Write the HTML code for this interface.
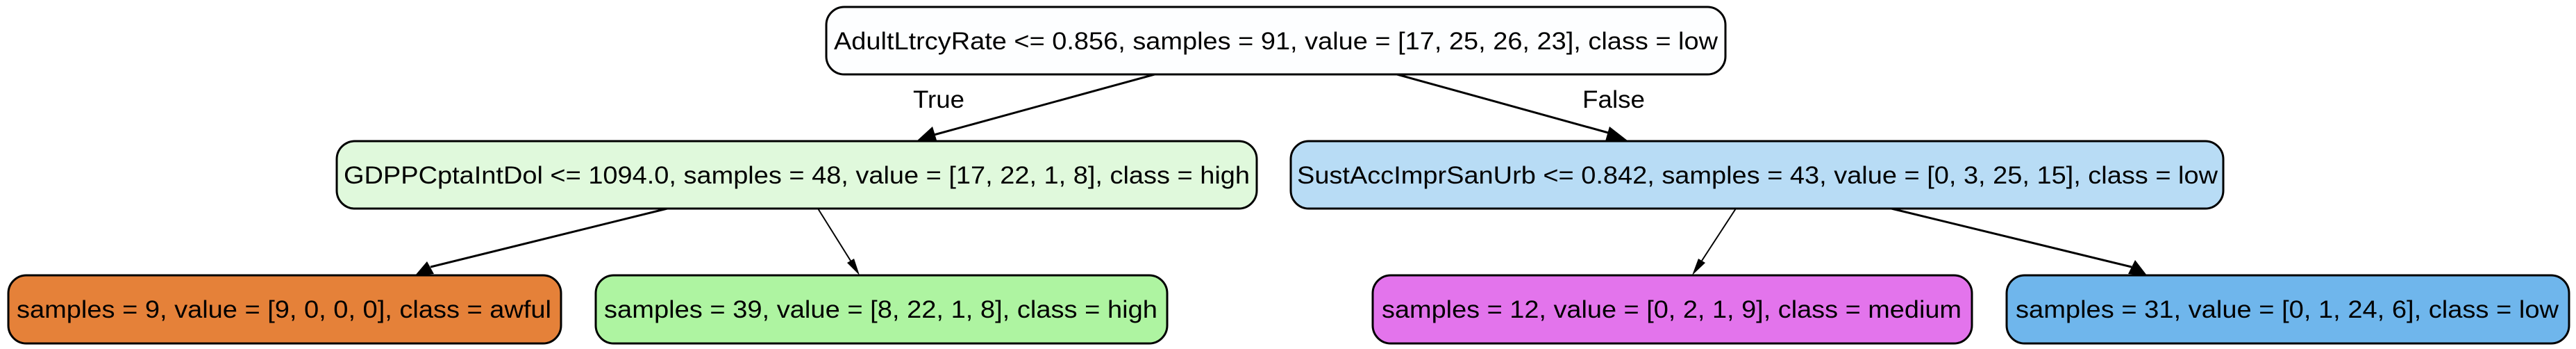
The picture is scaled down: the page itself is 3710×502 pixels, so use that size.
<!DOCTYPE html>
<html><head><meta charset="utf-8"><style>
html,body{margin:0;padding:0;background:#fff;}
svg{display:block}
text{font-family:"Liberation Sans",Arial,sans-serif;font-size:35px;fill:#000}
</style></head><body>
<svg width="3710" height="502" viewBox="0 0 3710 502">
<g stroke="#000" stroke-width="3">
<line x1="1663" y1="107" x2="1345" y2="194"/>
<polygon points="1320,203 1343,182 1350,205" fill="#000" stroke="none"/>
<line x1="2012" y1="107" x2="2320" y2="192"/>
<polygon points="2345,203 2318,182 2312,203" fill="#000" stroke="none"/>
<line x1="961" y1="300" x2="620" y2="384"/>
<polygon points="598,396 615,376 625,394" fill="#000" stroke="none"/>
<line x1="1178" y1="300" x2="1225" y2="375" stroke-width="2"/>
<polygon points="1238,396 1230,372 1220,378" fill="#000" stroke="none"/>
<line x1="2500" y1="300" x2="2451" y2="375" stroke-width="2"/>
<polygon points="2437,396 2446,372 2456,378" fill="#000" stroke="none"/>
<line x1="2724" y1="300" x2="3070" y2="384"/>
<polygon points="3092,396 3065,394 3075,374" fill="#000" stroke="none"/>
</g>
<text x="1315" y="155" textLength="74" lengthAdjust="spacingAndGlyphs">True</text>
<text x="2279" y="155" textLength="90" lengthAdjust="spacingAndGlyphs">False</text>

<g>
<rect x="1190" y="10" width="1295" height="97" rx="26" fill="#fdfeff" stroke="#000" stroke-width="3"/>
<text x="1201" y="71" textLength="1273" lengthAdjust="spacingAndGlyphs">AdultLtrcyRate &lt;= 0.856, samples = 91, value = [17, 25, 26, 23], class = low</text>
</g>
<g>
<rect x="485" y="203" width="1325" height="97" rx="26" fill="#e0f9dc" stroke="#000" stroke-width="3"/>
<text x="495" y="264" textLength="1305" lengthAdjust="spacingAndGlyphs">GDPPCptaIntDol &lt;= 1094.0, samples = 48, value = [17, 22, 1, 8], class = high</text>
</g>
<g>
<rect x="1859" y="203" width="1343" height="97" rx="26" fill="#b8dcf5" stroke="#000" stroke-width="3"/>
<text x="1868" y="264" textLength="1326" lengthAdjust="spacingAndGlyphs">SustAccImprSanUrb &lt;= 0.842, samples = 43, value = [0, 3, 25, 15], class = low</text>
</g>
<g>
<rect x="12" y="396" width="796" height="98" rx="26" fill="#e58139" stroke="#000" stroke-width="3"/>
<text x="24" y="457" textLength="770" lengthAdjust="spacingAndGlyphs">samples = 9, value = [9, 0, 0, 0], class = awful</text>
</g>
<g>
<rect x="858" y="396" width="823" height="98" rx="26" fill="#aef4a1" stroke="#000" stroke-width="3"/>
<text x="870" y="457" textLength="797" lengthAdjust="spacingAndGlyphs">samples = 39, value = [8, 22, 1, 8], class = high</text>
</g>
<g>
<rect x="1977" y="396" width="863" height="98" rx="26" fill="#e374ec" stroke="#000" stroke-width="3"/>
<text x="1990" y="457" textLength="835" lengthAdjust="spacingAndGlyphs">samples = 12, value = [0, 2, 1, 9], class = medium</text>
</g>
<g>
<rect x="2890" y="396" width="810" height="98" rx="26" fill="#6fb6ec" stroke="#000" stroke-width="3"/>
<text x="2903" y="457" textLength="782" lengthAdjust="spacingAndGlyphs">samples = 31, value = [0, 1, 24, 6], class = low</text>
</g>
</svg>
</body></html>
